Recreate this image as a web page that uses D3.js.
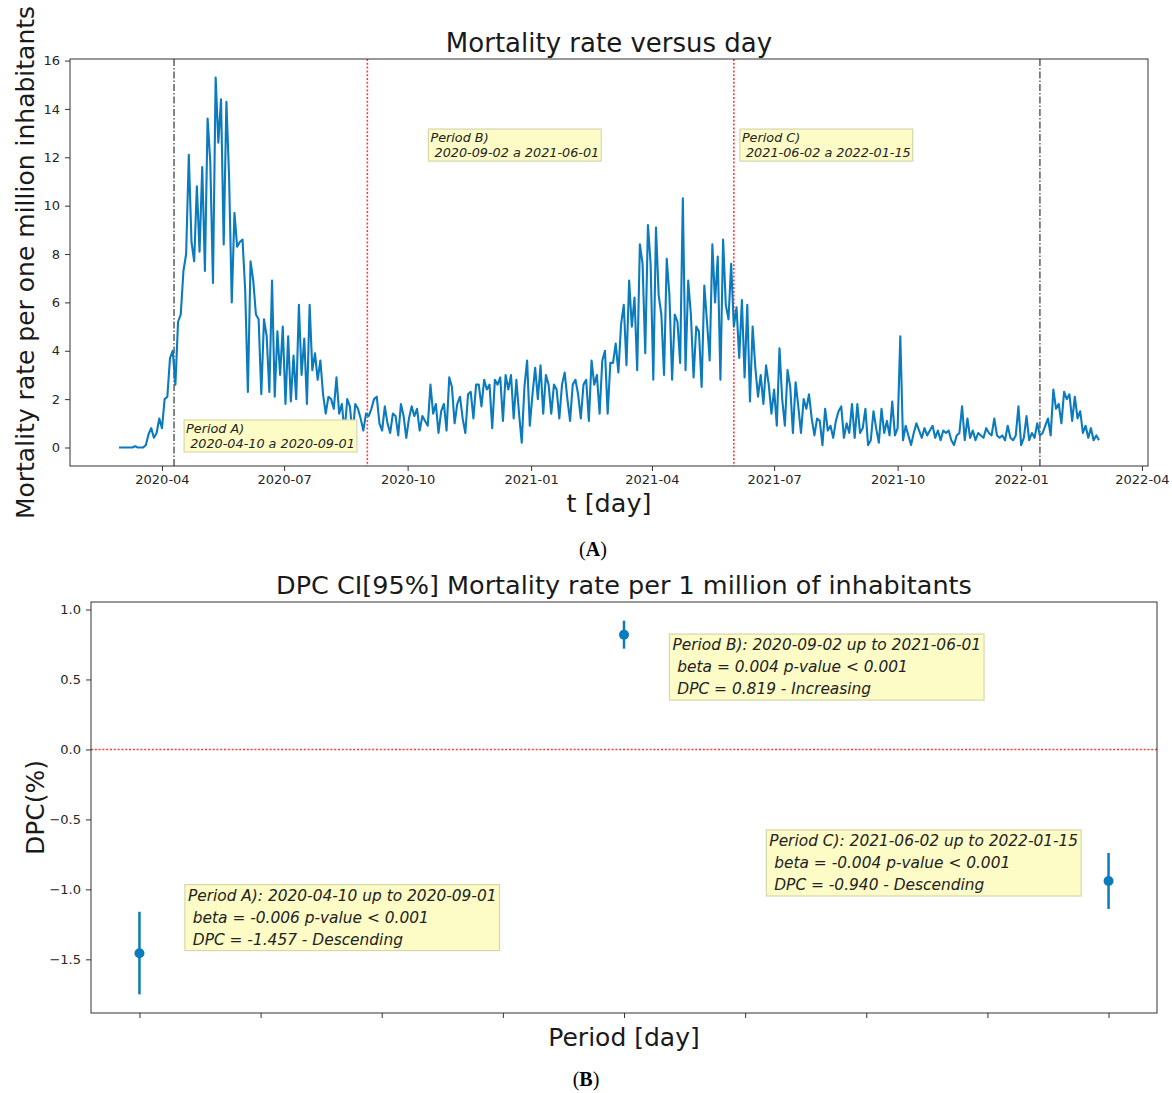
<!DOCTYPE html>
<html><head><meta charset="utf-8">
<script src="https://cdn.jsdelivr.net/npm/d3@7"></script>
<style>
body{margin:0;background:#fff}
svg{display:block}
text{font-family:"DejaVu Sans",sans-serif}
</style>
</head><body>
<svg id="c" width="1172" height="1093"></svg>
<script>
// ---------------- DATA ----------------
const startDate = "2020-02-29";   // first sample
const stepDays = 2;               // one sample every 2 days
const mortality = [
0,0,0,0,0,0,0.05,0,0,0,
0.1,0.55,0.8,0.4,0.6,1.2,0.8,2.0,2.1,3.7,
4.0,2.6,5.2,5.5,7.3,8.0,12.1,8.5,7.7,10.8,
8.1,11.6,7.3,13.6,11.8,6.8,15.3,12.6,14.4,8.4,
14.3,11.2,6.0,9.7,8.3,8.5,8.6,6.5,2.3,7.7,
6.9,5.5,5.3,2.2,5.3,4.6,2.3,6.9,2.1,4.8,
3.0,5.0,1.8,4.6,1.9,3.8,2.0,5.9,3.0,4.5,
1.8,5.9,3.2,3.9,2.8,3.6,2.2,1.4,2.1,2.0,
1.6,2.9,1.4,1.8,0.6,2.0,1.7,0.5,1.8,1.6,
1.2,0.7,1.4,1.3,1.6,2.0,2.1,1.0,0.7,1.7,
1.0,0.6,1.4,1.3,0.5,1.8,1.3,0.4,1.2,1.7,
1.3,1.6,0.7,1.3,1.1,0.9,2.6,1.4,1.8,0.6,
1.5,1.8,0.7,2.9,2.5,1.0,1.8,2.1,1.2,0.6,
2.2,2.3,1.2,2.6,2.6,1.7,2.8,2.4,2.6,0.8,
2.8,2.6,2.9,1.1,3.0,2.4,3.0,1.2,2.8,1.4,
0.2,2.5,3.6,0.9,2.2,3.3,2.0,3.4,1.4,3.0,
2.6,1.4,2.6,2.4,1.2,2.6,3.1,2.0,1.1,2.6,
2.8,2.2,1.2,2.6,2.8,1.1,3.6,2.6,3.0,1.4,
3.6,4.0,1.4,3.5,3.5,4.3,3.1,5.1,5.9,3.4,
6.9,5.0,6.2,3.2,8.4,7.6,3.9,9.2,7.6,2.8,
9.1,6.3,5.5,3.0,7.8,6.3,2.8,5.5,5.2,3.5,
10.3,3.2,6.9,5.5,2.9,5.0,4.8,2.5,6.7,5.2,
3.6,8.4,6.0,7.9,2.8,8.6,5.9,5.3,7.6,5.0,
5.8,3.7,6.1,2.9,5.9,1.9,5.0,3.3,2.1,3.0,
1.8,3.4,2.6,1.4,2.4,0.9,4.1,2.0,0.9,3.2,
2.5,0.6,2.7,1.7,0.6,2.0,1.6,2.2,1.2,0.5,
1.2,1.1,0.1,1.6,0.7,0.9,0.4,1.1,1.5,1.7,
0.4,1.0,0.6,1.8,0.4,1.8,0.6,0.8,1.6,0.1,
0.3,1.5,0.8,0.2,1.6,0.6,1.1,0.5,1.9,0.5,
0.8,4.6,0.3,0.9,0.5,0.1,0.6,1.0,0.7,0.4,
0.8,0.5,0.7,0.9,0.4,0.7,0.3,0.7,0.6,0.7,
0.3,0.1,0.5,0.6,1.7,0.3,1.2,0.4,0.7,0.3,
0.6,0.5,0.4,0.8,0.6,0.5,1.2,0.5,0.4,0.5,
0.3,0.9,0.4,0.3,0.5,1.7,0.1,0.4,1.3,0.3,
0.6,0.4,1.0,0.5,0.6,0.9,1.2,0.5,2.4,1.6,
1.8,1.0,2.3,2.0,2.2,1.1,2.1,1.2,1.5,0.6,
0.9,0.4,0.8,0.3,0.5,0.3
];
const xTickLabels = ["2020-04","2020-07","2020-10","2021-01","2021-04","2021-07","2021-10","2022-01","2022-04"];
const yTickValuesA = [0,2,4,6,8,10,12,14,16];

const periodNames = ["A","B","C"];
const periodStart = ["2020-04-10","2020-09-02","2021-06-02"];
const periodEnd   = ["2020-09-01","2021-06-01","2022-01-15"];
const boundaryDates = ["2020-04-10","2020-09-01","2021-06-01","2022-01-15"];
const boundaryKinds = ["outer","inner","inner","outer"];

const periodPos = [0, 4, 8];
const dpcValue = [-1.457, 0.819, -0.940];
const ciLow    = [-1.75, 0.72, -1.14];
const ciHigh   = [-1.16, 0.92, -0.74];
const betaValue = [-0.006, 0.004, -0.004];
const pValueText = ["< 0.001","< 0.001","< 0.001"];
const trend = ["Descending","Increasing","Descending"];
const xTickValuesB = [0,1,2,3,4,5,6,7,8];
const yTickValuesB = [-1.5,-1.0,-0.5,0.0,0.5,1.0];

// annotation anchor positions (data coordinates of first text line)
const noteAnchorsA = [["2020-04-19",0.6],["2020-10-18",12.63],["2021-06-07",12.63]];
const noteAnchorsB = [[0.4,-1.08],[4.4,0.71],[5.2,-0.69]];

// ---------------- DRAW ----------------
const svg = d3.select("#c");
svg.append("rect").attr("width",1172).attr("height",1093).attr("fill","#fff");
const LINE = "#0b7bbd", FRAME = "#333", TXT = "#1a1a1a", RED = "#ff3a3a";
const parse = d3.utcParse("%Y-%m-%d");

function styleAxis(g, fs){
  g.attr("font-family",null).attr("font-size",null);
  g.selectAll(".tick line").attr("stroke",FRAME).attr("stroke-width",1);
  g.selectAll(".tick text").attr("fill","#262626").style("font-size",fs+"px").style("font-family","'DejaVu Sans',sans-serif");
  g.select(".domain").remove();
}
function note(g, x0, y0, lines, fs, lh, pad){
  const t = g.append("text").attr("x",x0).attr("y",y0)
    .attr("xml:space","preserve").style("white-space","pre")
    .style("font-size",fs+"px").style("font-style","italic").attr("fill","#222");
  lines.forEach((s,i)=>t.append("tspan").attr("x",x0).attr("y",y0+i*lh).text(s));
  const bb = t.node().getBBox();
  g.insert("rect","text:last-of-type")
    .attr("x",bb.x-pad).attr("y",bb.y-pad+1).attr("width",bb.width+2*pad).attr("height",bb.height+2*pad-2)
    .attr("fill","#fdfcc6").attr("stroke","#d6d6ad").attr("stroke-width",1.2);
  t.raise();
}

// ===== Chart A =====
const A = {l:70, r:1148, t:59, b:466};
const t0 = parse(startDate);
const series = mortality.map((v,i)=>({date:d3.utcDay.offset(t0, i*stepDays), v}));
const spanA = (+series[series.length-1].date - +series[0].date);
const xA = d3.scaleUtc()
  .domain([new Date(+series[0].date - spanA*0.05), new Date(+series[series.length-1].date + spanA*0.05)])
  .range([A.l, A.r]);
const vMin = d3.min(mortality), vMax = d3.max(mortality), mA = (vMax-vMin)*0.05;
const yA = d3.scaleLinear().domain([vMin-mA, vMax+mA]).range([A.b, A.t]);

const gA = svg.append("g");
gA.append("g").attr("transform",`translate(0,${A.b})`)
  .call(d3.axisBottom(xA).tickValues(xTickLabels.map(s=>parse(s+"-01"))).tickFormat(d3.utcFormat("%Y-%m")).tickSize(5).tickPadding(4))
  .call(g=>styleAxis(g,13));
gA.append("g").attr("transform",`translate(${A.l},0)`)
  .call(d3.axisLeft(yA).tickValues(yTickValuesA).tickFormat(d3.format("d")).tickSize(5).tickPadding(5))
  .call(g=>styleAxis(g,13));

// boundary lines
boundaryDates.forEach((d,i)=>{
  const xx = xA(parse(d));
  gA.append("line").attr("x1",xx).attr("x2",xx).attr("y1",A.t).attr("y2",A.b)
    .attr("stroke", boundaryKinds[i]==="outer" ? "#444" : RED)
    .attr("stroke-width", boundaryKinds[i]==="outer" ? 1.3 : 1.6)
    .attr("stroke-dasharray", boundaryKinds[i]==="outer" ? "7,2,1.5,2" : "2,1.8");
});

gA.append("path").datum(series)
  .attr("fill","none").attr("stroke",LINE).attr("stroke-width",2.1).attr("stroke-linejoin","round")
  .attr("d", d3.line().x(d=>xA(d.date)).y(d=>yA(d.v)));

gA.append("rect").attr("x",A.l).attr("y",A.t).attr("width",A.r-A.l).attr("height",A.b-A.t)
  .attr("fill","none").attr("stroke",FRAME).attr("stroke-width",1);

periodNames.forEach((p,i)=>{
  const g = gA.append("g");
  note(g, xA(parse(noteAnchorsA[i][0])), yA(noteAnchorsA[i][1]),
    [`Period ${p})`, ` ${periodStart[i]} a ${periodEnd[i]}`], 12.8, 15, 2);
});

gA.append("text").attr("x",(A.l+A.r)/2).attr("y",52).attr("text-anchor","middle")
  .style("font-size","26px").attr("fill",TXT).text("Mortality rate versus day");
gA.append("text").attr("transform",`translate(34,${(A.t+A.b)/2}) rotate(-90)`).attr("text-anchor","middle")
  .style("font-size","25px").attr("fill",TXT).text("Mortality rate per one million inhabitants");
gA.append("text").attr("x",(A.l+A.r)/2).attr("y",512).attr("text-anchor","middle")
  .style("font-size","25.5px").attr("fill",TXT).text("t [day]");
const labA = gA.append("text").attr("x",593).attr("y",556).attr("text-anchor","middle")
  .style("font-family","'Liberation Serif',serif").style("font-size","20px").attr("fill","#000");
labA.append("tspan").text("(");
labA.append("tspan").style("font-weight","bold").text("A");
labA.append("tspan").text(")");

// ===== Chart B =====
const B = {l:91, r:1157, t:602, b:1013};
const pMin = d3.min(periodPos), pMax = d3.max(periodPos), mX = (pMax-pMin)*0.05;
const xB = d3.scaleLinear().domain([pMin-mX, pMax+mX]).range([B.l, B.r]);
const cMin = d3.min(ciLow), cMax = d3.max(ciHigh), mY = (cMax-cMin)*0.05;
const yB = d3.scaleLinear().domain([cMin-mY, cMax+mY]).range([B.b, B.t]);

const gB = svg.append("g");
gB.append("g").attr("transform",`translate(0,${B.b})`)
  .call(d3.axisBottom(xB).tickValues(xTickValuesB).tickFormat("").tickSize(5))
  .call(g=>styleAxis(g,13));
gB.append("g").attr("transform",`translate(${B.l},0)`)
  .call(d3.axisLeft(yB).tickValues(yTickValuesB).tickFormat(d3.format(".1f")).tickSize(5).tickPadding(5))
  .call(g=>styleAxis(g,13));

gB.append("line").attr("x1",B.l).attr("x2",B.r).attr("y1",yB(0)).attr("y2",yB(0))
  .attr("stroke",RED).attr("stroke-width",1.6).attr("stroke-dasharray","2,1.8");

periodPos.forEach((p,i)=>{
  gB.append("line").attr("x1",xB(p)).attr("x2",xB(p)).attr("y1",yB(ciLow[i])).attr("y2",yB(ciHigh[i]))
    .attr("stroke",LINE).attr("stroke-width",2.5);
  gB.append("circle").attr("cx",xB(p)).attr("cy",yB(dpcValue[i])).attr("r",5).attr("fill",LINE);
});

gB.append("rect").attr("x",B.l).attr("y",B.t).attr("width",B.r-B.l).attr("height",B.b-B.t)
  .attr("fill","none").attr("stroke",FRAME).attr("stroke-width",1);

periodNames.forEach((p,i)=>{
  const g = gB.append("g");
  note(g, xB(noteAnchorsB[i][0]), yB(noteAnchorsB[i][1]),
    [`Period ${p}): ${periodStart[i]} up to ${periodEnd[i]}`,
     ` beta = ${betaValue[i].toFixed(3)} p-value ${pValueText[i]}`,
     ` DPC = ${dpcValue[i].toFixed(3)} - ${trend[i]}`], 15.4, 22, 3);
});

gB.append("text").attr("x",(B.l+B.r)/2).attr("y",594).attr("text-anchor","middle")
  .style("font-size","25.5px").attr("fill",TXT).text("DPC CI[95%] Mortality rate per 1 million of inhabitants");
gB.append("text").attr("transform",`translate(44,${(B.t+B.b)/2}) rotate(-90)`).attr("text-anchor","middle")
  .style("font-size","25px").attr("fill",TXT).text("DPC(%)");
gB.append("text").attr("x",(B.l+B.r)/2).attr("y",1046).attr("text-anchor","middle")
  .style("font-size","25px").attr("fill",TXT).text("Period [day]");
const labB = gB.append("text").attr("x",586).attr("y",1086).attr("text-anchor","middle")
  .style("font-family","'Liberation Serif',serif").style("font-size","20px").attr("fill","#000");
labB.append("tspan").text("(");
labB.append("tspan").style("font-weight","bold").text("B");
labB.append("tspan").text(")");
</script>
</body></html>
